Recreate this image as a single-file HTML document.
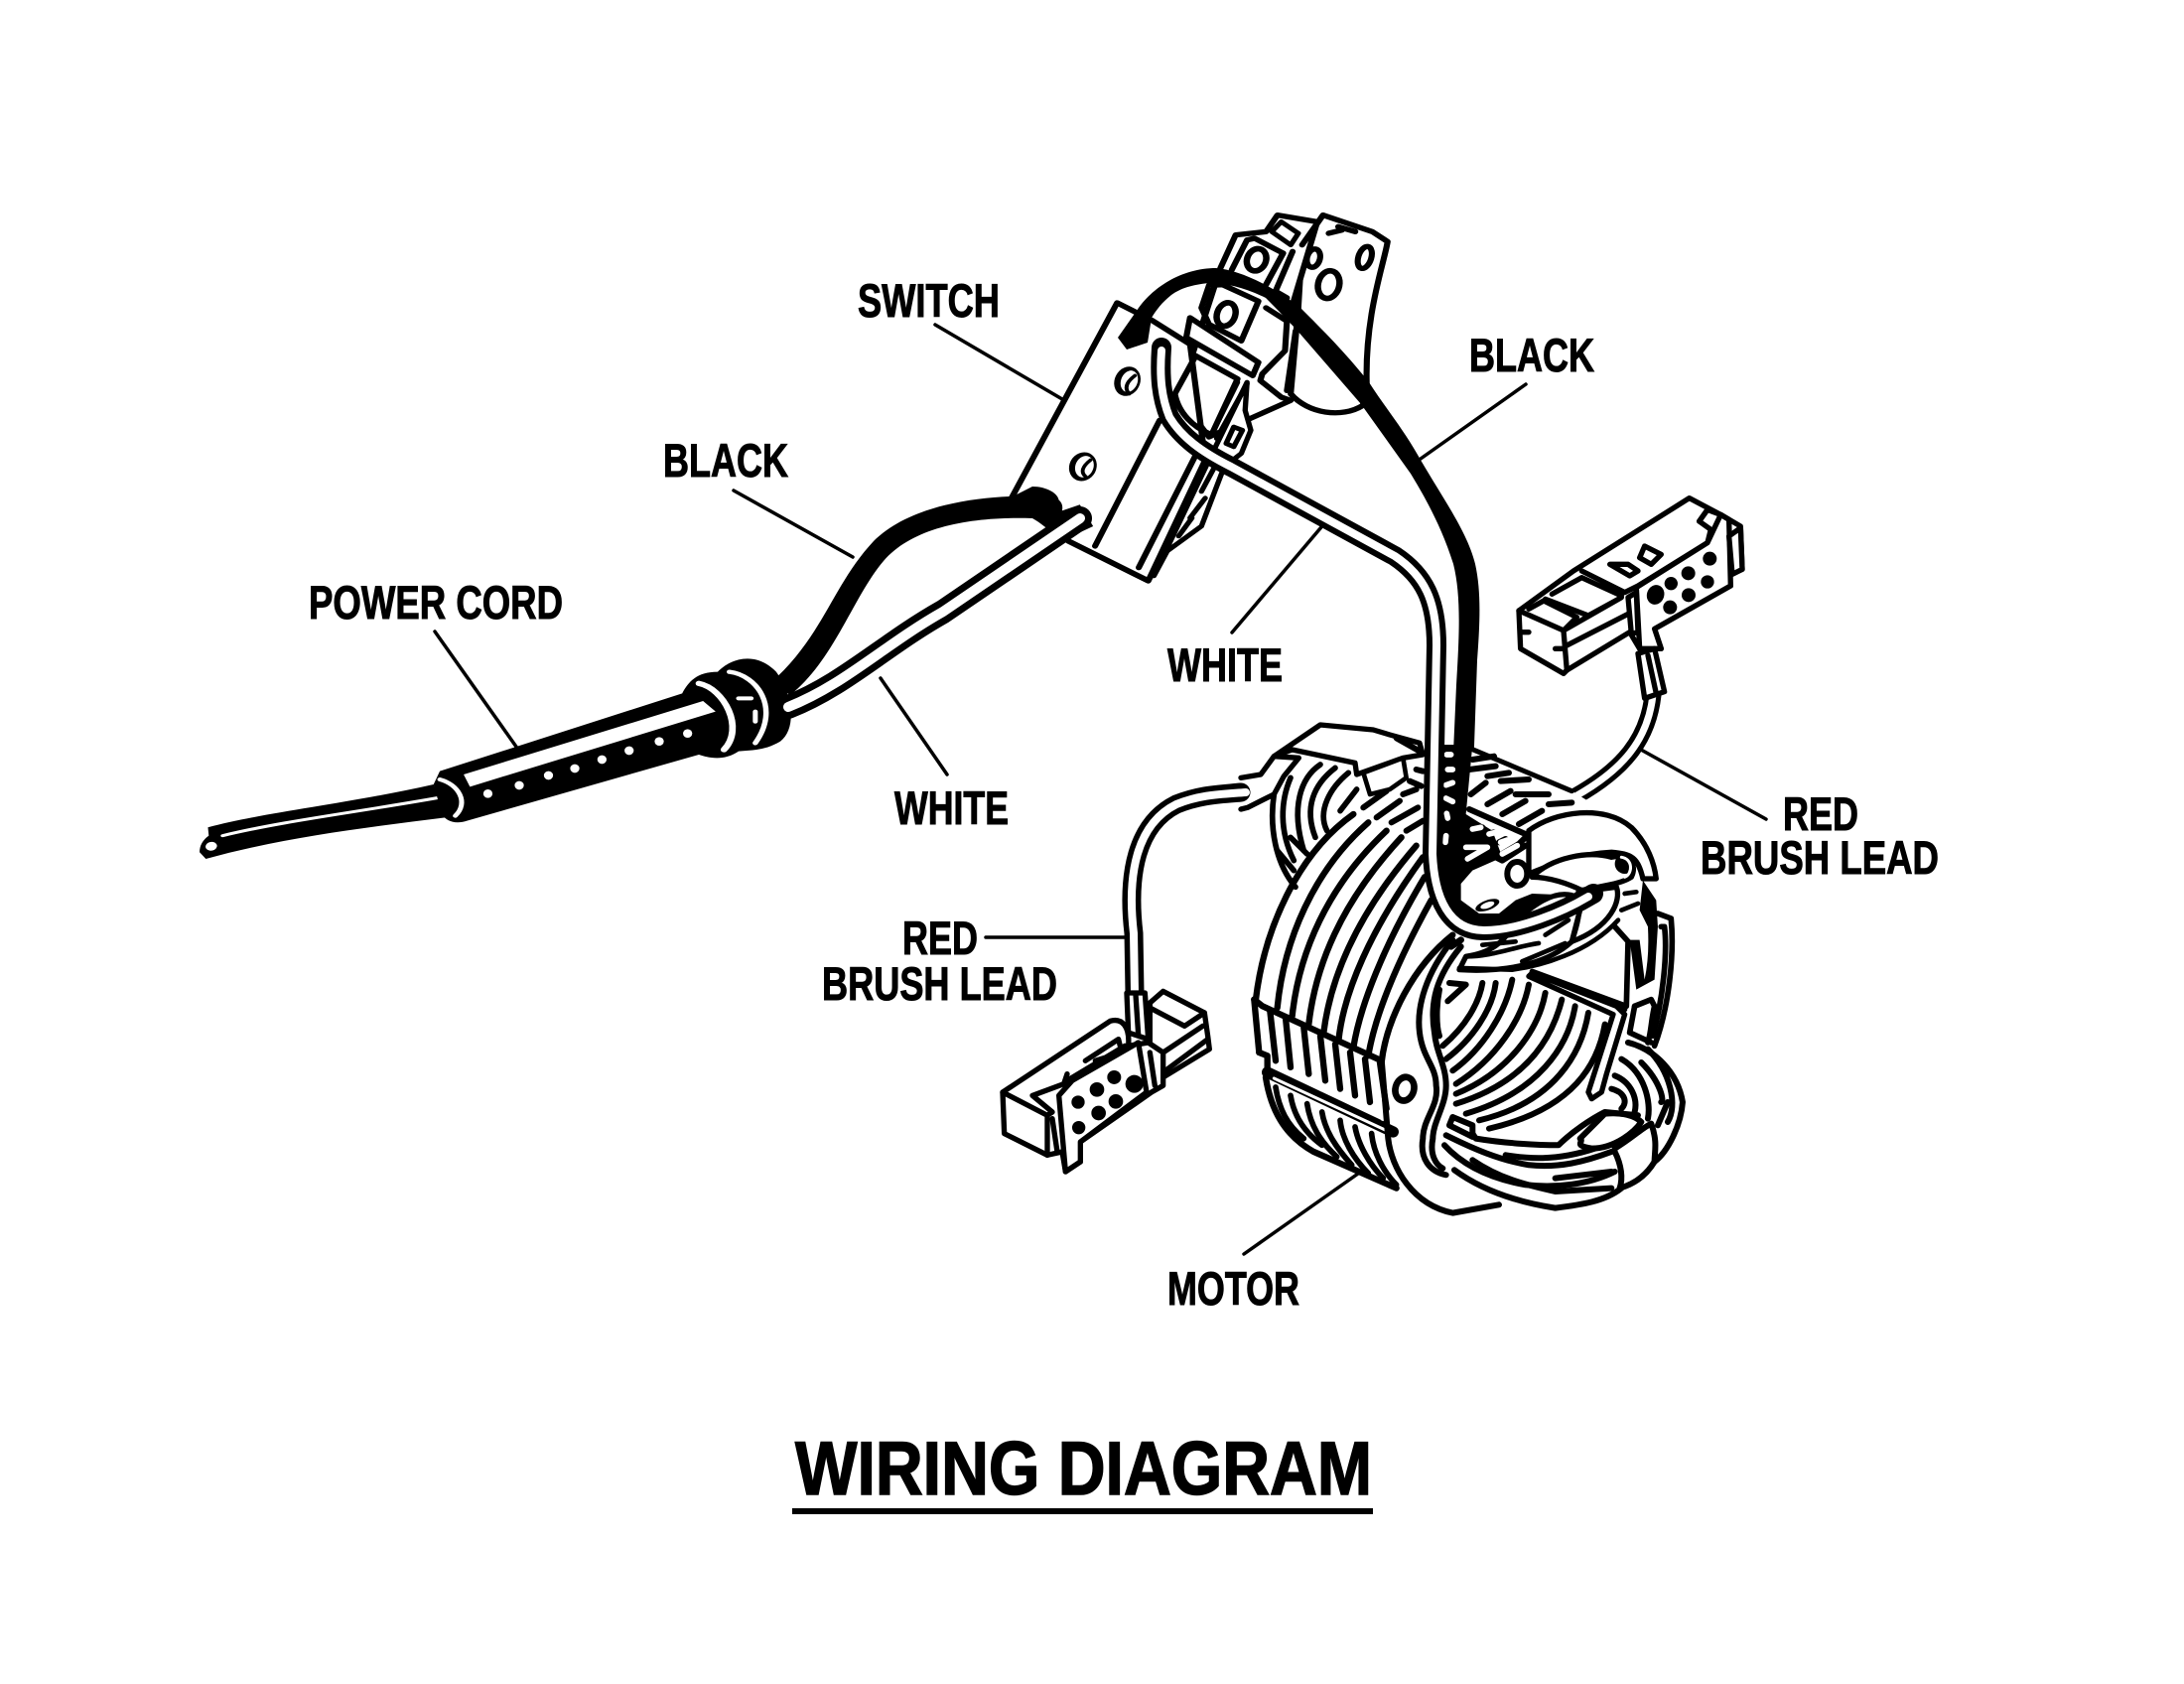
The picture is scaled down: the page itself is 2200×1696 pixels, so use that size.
<!DOCTYPE html>
<html><head><meta charset="utf-8"><style>
html,body{margin:0;padding:0;background:#fff}
svg{display:block}
text{font-family:"Liberation Sans",sans-serif;font-weight:700;fill:#000;stroke:#000;stroke-width:1}
.k{fill:none;stroke:#000;stroke-linecap:round;stroke-linejoin:round}
.w{fill:none;stroke:#fff;stroke-linecap:round;stroke-linejoin:round}
.f{fill:#fff;stroke:#000;stroke-linejoin:round;stroke-linecap:round}
.b{fill:#000}
</style></head><body>
<svg xmlns="http://www.w3.org/2000/svg" width="2200" height="1696" viewBox="0 0 2200 1696">
<rect width="2200" height="1696" fill="#fff"/>

<!-- labels -->
<text x="864" y="319" font-size="47" textLength="143" lengthAdjust="spacingAndGlyphs">SWITCH</text>
<text x="1480" y="374" font-size="47" textLength="126" lengthAdjust="spacingAndGlyphs">BLACK</text>
<text x="668" y="480" font-size="47" textLength="126" lengthAdjust="spacingAndGlyphs">BLACK</text>
<text x="311" y="623" font-size="47" textLength="256" lengthAdjust="spacingAndGlyphs">POWER CORD</text>
<text x="1176" y="686" font-size="47" textLength="116" lengthAdjust="spacingAndGlyphs">WHITE</text>
<text x="901" y="830" font-size="47" textLength="115" lengthAdjust="spacingAndGlyphs">WHITE</text>
<text x="1796" y="836" font-size="47" textLength="76" lengthAdjust="spacingAndGlyphs">RED</text>
<text x="1713" y="880" font-size="47" textLength="240" lengthAdjust="spacingAndGlyphs">BRUSH LEAD</text>
<text x="909" y="961" font-size="47" textLength="76" lengthAdjust="spacingAndGlyphs">RED</text>
<text x="828" y="1007" font-size="47" textLength="237" lengthAdjust="spacingAndGlyphs">BRUSH LEAD</text>
<text x="1176" y="1314" font-size="47" textLength="133" lengthAdjust="spacingAndGlyphs">MOTOR</text>
<text x="801" y="1505" font-size="76" textLength="581" lengthAdjust="spacingAndGlyphs" style="stroke-width:1.5">WIRING DIAGRAM</text>
<rect x="798" y="1519" width="585" height="6" fill="#000"/>

<!-- leaders -->
<g class="k" stroke-width="3.5">
<path d="M942,327L1070,402"/>
<path d="M1537,387L1431,462"/>
<path d="M739,494L859,561"/>
<path d="M438,636L520,752"/>
<path d="M1336,525L1241,637"/>
<path d="M887,683L954,780"/>
<path d="M1653,755L1779,825"/>
<path d="M993,944L1134,944"/>
<path d="M1368,1182L1253,1263"/>
</g>

<!-- power cord -->
<g transform="translate(180 600) scale(.4209 .3333)">
<path class="b" d="M70,700C200,655 400,630 610,570L640,670C450,700 250,730 65,795L50,775Q50,745 72,725Z"/>
<path class="w" stroke-width="9" d="M105,725C250,680 450,650 645,605"/>
<ellipse cx="78" cy="757" rx="14" ry="13" fill="#fff" transform="rotate(-35 78 757)"/>
<path class="b" d="M625,530L1205,295C1220,260 1240,230 1290,230C1320,190 1380,165 1430,230C1470,300 1480,400 1440,440C1400,470 1370,465 1340,470C1310,495 1280,495 1245,480L690,680C660,692 640,680 630,660L610,570Z"/>
<path fill="#fff" d="M682,540L1255,318L1285,350L697,577Z"/>
<g fill="#fff">
<ellipse cx="740" cy="598" rx="11" ry="13"/><ellipse cx="815" cy="573" rx="11" ry="13"/><ellipse cx="885" cy="543" rx="11" ry="13"/><ellipse cx="948" cy="522" rx="11" ry="13"/><ellipse cx="1013" cy="495" rx="11" ry="13"/><ellipse cx="1078" cy="468" rx="11" ry="13"/><ellipse cx="1150" cy="440" rx="11" ry="13"/><ellipse cx="1218" cy="416" rx="11" ry="13"/>
</g>
<path class="w" stroke-width="12" d="M625,555C670,570 695,625 662,665"/>
<path class="w" stroke-width="16" d="M1245,265C1305,280 1355,400 1305,465"/>
<path class="w" stroke-width="13" d="M1318,230C1385,240 1440,340 1380,445"/>
<path class="w" stroke-width="12" d="M1340,310L1370,310M1380,350L1380,380"/>
</g>

<!-- switch -->
<g transform="translate(950 200) scale(.3827 .3333)" stroke-width="14">
<path class="f" stroke-width="16" d="M1000,50L1130,100L1170,130C1160,200 1110,350 1115,560L1105,625C1050,665 960,650 915,590L935,330L945,140Z"/>
<path class="f" stroke-width="16" d="M730,210L770,110L850,100L880,50L985,70L920,320L905,370L900,460L840,530L835,550L890,600L915,610L700,720L620,600Z"/>
<path class="k" stroke-width="16" d="M945,140L1000,50M1040,85L1085,100M1015,105L1050,95"/>
<path class="f" stroke-width="14" d="M865,100L890,70L935,105L915,140Z"/>
<path class="k" stroke-width="16" d="M760,215L800,125L820,120L895,165L850,260"/>
<path class="k" stroke-width="16" d="M895,165L850,260M920,160L875,280L905,300M735,260L830,310L785,430M735,260L700,262L680,330L700,380L785,430M850,330L905,370"/>
<ellipse cx="825" cy="185" rx="25" ry="34" fill="#fff" stroke="#000" stroke-width="17" transform="rotate(15 825 185)"/>
<ellipse cx="745" cy="350" rx="24" ry="36" fill="#fff" stroke="#000" stroke-width="17" transform="rotate(15 745 350)"/>
<ellipse cx="975" cy="180" rx="17" ry="28" fill="#fff" stroke="#000" stroke-width="16" transform="rotate(12 975 180)"/>
<ellipse cx="1015" cy="260" rx="28" ry="42" fill="#fff" stroke="#000" stroke-width="17" transform="rotate(10 1015 260)"/>
<ellipse cx="1110" cy="178" rx="17" ry="34" fill="#fff" stroke="#000" stroke-width="16" transform="rotate(15 1110 178)"/>
<path class="k" stroke-width="16" d="M928,400L905,580"/>
<path class="f" stroke-width="16" d="M458,315L180,905L330,1035L540,1155L690,790L650,440L550,368Z"/>
<path class="f" stroke-width="16" d="M650,360L640,420L815,535L830,495Z"/>
<path class="k" stroke-width="16" d="M665,475L775,545L710,705M665,475L610,590C620,650 660,690 700,710M570,670L400,1050M330,1035L540,1155M515,1115L665,775M540,1155L700,790"/>
<path class="f" stroke-width="14" d="M795,640L810,700L785,770L740,810L680,990L590,1065L555,1140L700,790L800,555Z"/>
<path class="k" stroke-width="14" d="M800,560L720,725M775,555L710,705"/>
<path class="f" stroke-width="14" d="M765,690L788,700L765,750L745,740Z"/>
<path class="k" stroke-width="14" d="M715,810L680,885M690,905L650,965M655,965L620,1020"/>
<g fill="#000"><ellipse cx="485" cy="552" rx="34" ry="45" transform="rotate(15 485 552)"/><ellipse cx="368" cy="810" rx="36" ry="44" transform="rotate(15 368 810)"/></g>
<g fill="#fff"><ellipse cx="490" cy="552" rx="22" ry="33" transform="rotate(15 490 552)"/><ellipse cx="372" cy="810" rx="24" ry="33" transform="rotate(15 372 810)"/></g>
<path class="k" stroke-width="10" d="M505,535Q470,565 490,590M388,790Q355,820 375,840"/>
<path class="b" d="M235,870C280,870 320,900 300,935L270,960L360,925L395,990L330,1025L270,990L175,905Z"/>
</g>

<!-- black cord wire -->
<path class="b" d="M776,688C830,640 838,590 880,545C920,505 1000,498 1045,500C1065,498 1075,505 1068,520L1050,528L1040,522C980,520 920,530 890,565C860,600 840,665 796,700Z"/>
<!-- white cord wire -->
<path class="k" stroke-width="24" d="M794,712C850,690 890,650 950,616L1088,522"/>
<path class="w" stroke-width="10" d="M794,712C850,690 890,650 950,616L1088,522"/>

<!-- black wire -->
<path class="b" d="M1126,340L1145,313C1160,290 1190,270 1225,270C1250,272 1285,290 1310,310C1335,335 1355,355 1379,385C1395,410 1412,430 1428,458C1452,500 1478,535 1486,568C1492,595 1491,625 1488,665L1484,780L1463,780L1467,690C1470,640 1472,600 1464,568C1452,530 1435,500 1421,477L1371,407L1306,332C1290,315 1280,305 1275,300C1255,290 1235,285 1218,285C1200,287 1190,290 1180,297C1170,305 1165,312 1160,320L1156,345L1135,352Z"/>

<!-- right brush lead (behind) -->
<path class="k" stroke-width="17" d="M1665,700C1660,745 1635,775 1587,802"/>
<path class="w" stroke-width="7" d="M1665,700C1660,745 1635,775 1587,802"/>

<!-- motor -->
<g transform="translate(1250 720) scale(.3333)">
<!-- silhouettes -->
<path fill="#fff" d="M100,120L240,30L400,40L550,90L650,100L700,100L1000,230L1180,340L1255,495L1300,615L1310,720L1260,1010L1335,1160L1270,1330L1150,1430L950,1490L780,1480L640,1505L470,1430L220,1320L130,1270L75,1095L60,1025L40,860L100,620L140,510L95,330Z"/>
<!-- back-left coil -->
<g class="k" stroke-width="17">
<path d="M100,240C85,340 105,450 165,520"/>
<path d="M150,190C120,260 115,350 160,440"/>
<path d="M110,410L160,470"/>
<path d="M150,370L200,420"/>
<path d="M240,150C180,190 150,280 190,410"/>
<path d="M285,160C220,210 190,280 225,370"/>
<path d="M325,175C270,220 230,290 260,350"/>
<path d="M350,225L300,290"/>
</g>
<path class="f" stroke-width="16" d="M100,125L240,30L400,45L450,60L540,85L550,120L490,130L350,180L345,145L155,105Z"/>
<path class="f" stroke-width="16" d="M0,190L60,180L100,125L175,130L130,185L100,240L20,280L0,285"/>
<path class="f" stroke-width="14" d="M370,175L490,130L500,190L450,225L390,240Z"/>
<!-- top slats left -->
<g class="k" stroke-width="18">
<path d="M370,280L440,230M410,310L480,260M455,325L535,280M500,350L550,320M490,240L530,225M510,200L545,215M530,165L550,170M470,70L550,115"/>
</g>
<!-- top slats right -->
<path class="k" stroke-width="15" d="M690,100L1000,230"/>
<g class="k" stroke-width="18">
<path d="M700,135L765,125M690,165L770,155M745,185L810,175M785,200L870,195M830,240L930,240M930,270L1000,265"/>
<path d="M695,240L740,205M745,270L815,230M790,300L860,260M840,330L910,290"/>
<path d="M690,285L860,360"/>
<path d="M690,330L700,325M700,350L730,340M745,360L765,355M780,385L800,375M680,385L730,400M680,435L750,400M790,420L840,390L860,370"/>
<path d="M770,430L790,440L860,395"/>
</g>
<!-- main front coil strands -->
<g class="k" stroke-width="19">
<path d="M45,860C70,650 170,420 340,300"/>
<path d="M110,885C130,680 220,470 385,325"/>
<path d="M155,910C175,720 260,520 440,350"/>
<path d="M205,935C225,760 300,570 485,370"/>
<path d="M250,960C270,800 345,610 530,395"/>
<path d="M295,985C310,840 390,650 550,430"/>
<path d="M340,1005C360,880 430,700 555,490"/>
<path d="M385,1030C405,910 470,750 575,560"/>
<path d="M425,1050C440,920 520,760 640,665"/>
<path d="M40,860L65,880L425,1045"/>
<path d="M40,860L55,1020M88,895L105,1045M135,915L150,1065M190,945L205,1085M240,970L255,1105M285,995L300,1130M330,1020L345,1150M375,1040L390,1170M420,1050L440,1190"/>
<path d="M55,1020L80,1030L80,1090"/>
<path d="M75,1095C90,1190 130,1270 220,1320L470,1430"/>
<path stroke-width="34" d="M80,1080L460,1260"/>
</g>
<path class="w" stroke-width="9" d="M100,1098L440,1256"/>
<g fill="#fff"><circle cx="112" cy="1064" r="9"/><circle cx="155" cy="1082" r="9"/><circle cx="200" cy="1105" r="9"/><circle cx="245" cy="1128" r="10"/><circle cx="290" cy="1150" r="9"/><circle cx="335" cy="1172" r="9"/><circle cx="385" cy="1195" r="9"/><circle cx="430" cy="1218" r="9"/></g>
<g class="k" stroke-width="17">
<path d="M150,1150C160,1210 190,1260 245,1300"/>
<path d="M200,1175C210,1240 240,1290 290,1335"/>
<path d="M245,1200C255,1260 290,1310 335,1360"/>
<path d="M300,1225C305,1280 340,1340 385,1385"/>
<path d="M345,1245C355,1300 390,1360 430,1400"/>
<path d="M395,1265C400,1320 430,1380 470,1420"/>
<path d="M105,1125C115,1190 140,1240 190,1280"/>
</g>
<!-- plate edges -->
<g class="k" stroke-width="18">
<path d="M425,1040L445,1280C455,1370 520,1480 640,1505L780,1480"/>
<path d="M640,680C560,780 530,880 540,960C550,1040 590,1060 590,1120C600,1180 550,1220 550,1280C540,1340 570,1380 620,1390"/>
<path d="M665,700C590,790 570,870 585,960C590,1020 620,1060 620,1120C620,1180 580,1230 580,1280C570,1330 590,1360 610,1370"/>
<path d="M635,700L665,680" stroke-width="20"/>
</g>
<ellipse cx="495" cy="1130" rx="28" ry="36" fill="#fff" stroke="#000" stroke-width="20" transform="rotate(15 495 1130)"/>
<!-- inner coil strands -->
<g class="k" stroke-width="18">
<path d="M730,810C720,870 680,940 610,1000"/>
<path d="M770,810C760,890 700,980 620,1040"/>
<path d="M820,800C800,900 730,1010 640,1075"/>
<path d="M870,815C850,920 770,1040 650,1115"/>
<path d="M920,840C900,950 810,1080 650,1145"/>
<path d="M970,860C940,980 860,1110 650,1175"/>
<path d="M1010,880C990,1000 900,1140 680,1205"/>
<path d="M1050,900C1030,1020 950,1170 720,1225"/>
<path d="M1100,935C1080,1050 1010,1190 750,1250"/>
<path d="M600,830C590,880 590,940 600,970"/>
<path d="M630,810L680,815L625,865"/>
</g>
<path class="f" stroke-width="16" d="M880,780L1160,890L1135,880L1160,905L1105,1085L1090,1140L1060,1160L1050,1140L1125,905L870,790Z"/>
<path class="k" stroke-width="16" d="M880,775L1165,880"/>
<!-- bottom bundle -->
<g class="k" stroke-width="18">
<path d="M640,1215L700,1240L700,1275L630,1240Z"/>
<path d="M700,1265L710,1280C800,1295 900,1300 960,1300C1000,1260 1060,1220 1100,1200L1200,1210"/>
<path d="M620,1270C700,1310 780,1345 870,1360C960,1370 1040,1350 1120,1320"/>
<path d="M615,1300C670,1360 750,1400 860,1420C950,1430 1050,1420 1130,1380"/>
<path d="M645,1375C720,1430 820,1470 950,1490C1030,1480 1100,1470 1150,1430"/>
<path d="M700,1345C780,1400 860,1420 950,1440L1120,1430"/>
<path d="M800,1330C860,1340 950,1350 1070,1310"/>
<path d="M950,1400L1120,1380"/>
<path d="M1130,1320C1150,1360 1155,1400 1145,1430"/>
<path d="M1025,1280L1100,1205C1150,1200 1190,1210 1210,1230C1190,1260 1130,1310 1060,1310C1000,1300 1040,1290 1025,1280Z"/>
<path d="M1130,1310C1180,1280 1210,1250 1240,1235C1260,1290 1250,1320 1250,1350C1220,1400 1180,1420 1145,1430"/>
<!-- right end coil -->
<path d="M1170,990C1250,1010 1320,1080 1335,1170C1330,1240 1290,1320 1250,1350"/>
<path d="M1130,1090C1180,1110 1200,1160 1190,1200"/>
<path d="M1120,1130C1160,1140 1170,1170 1150,1190"/>
<path d="M1150,1040C1220,1080 1240,1170 1230,1220"/>
<path d="M1210,1050C1270,1110 1280,1170 1270,1170"/>
<path d="M1230,1010C1300,1080 1320,1180 1290,1230"/>
<path d="M1260,1240L1290,1170"/>
</g>
<!-- right end band -->
<g class="k" stroke-width="17">
<path d="M1260,600L1300,615C1310,720 1295,880 1250,1000"/>
<path d="M1270,640L1280,640C1290,720 1275,860 1245,970"/>
<path d="M1190,880L1240,860L1250,880C1240,920 1240,960 1230,990"/>
<path d="M1190,880L1175,960L1240,990"/>
<path d="M1170,690L1165,880"/>
<path d="M1130,640L1175,690"/>
</g>
<path class="b" d="M1215,500L1255,560L1260,640L1250,800L1195,830L1175,680L1205,680L1220,800Q1235,730 1230,640L1205,590Z"/>
<!-- front ring -->
<path class="f" stroke-width="16" d="M870,350C950,290 1100,270 1180,340C1230,390 1250,450 1255,495L1215,495C1200,430 1180,420 1120,415C1000,420 900,470 870,480Z"/>
<!-- black block around wire -->
<path class="b" d="M600,90L700,90L680,300L760,350L790,430L700,470L665,510L665,560L720,600L780,600L830,560L880,540L1000,545L900,620C830,650 760,665 700,650C640,630 610,590 600,500Z"/>
<g class="w" stroke-width="17">
<path d="M622,120L635,120M625,165L640,165M620,212L640,205M620,252L640,262M622,298L625,312M620,365L618,385"/>
<path d="M700,345L725,340M750,360L770,355M785,385L805,378M680,400L745,400M685,435L745,400M790,420L835,395"/>
</g>
<path fill="#fff" d="M665,515L730,465C760,480 790,510 820,520L760,540L690,565Z"/>
<ellipse cx="745" cy="575" rx="38" ry="15" fill="#000" transform="rotate(-20 745 575)"/>
<ellipse cx="745" cy="575" rx="22" ry="9" fill="#fff" transform="rotate(-20 745 575)"/>
<ellipse cx="835" cy="480" rx="30" ry="36" fill="#fff" stroke="#000" stroke-width="18"/>
<!-- wound bundle -->
<path class="f" stroke-width="16" d="M880,490C940,430 1050,410 1120,430C1170,420 1200,450 1180,490C1150,510 1100,515 1030,530C990,510 930,490 880,490Z"/>
<path class="f" stroke-width="16" d="M1020,535L1135,520C1150,560 1120,640 1000,685C1015,640 1030,590 1020,535Z"/>
<path class="f" stroke-width="16" d="M830,620C880,580 940,530 1000,545L1030,570L1000,685C940,740 830,780 660,770L680,730C750,720 800,690 830,620Z"/>
<g class="k" stroke-width="14">
<path d="M880,620C920,610 960,590 1000,575"/>
<path d="M920,665L990,620"/>
<path d="M680,730C760,730 830,700 900,690"/>
<path d="M850,745L980,690"/>
<path d="M730,695L830,685"/>
<path d="M660,765L820,770C900,760 1050,720 1140,620"/>
</g>
<path class="k" stroke-width="14" d="M1150,590L1200,570M1160,540L1195,535"/>
<circle cx="1160" cy="450" r="30" fill="#000"/>
<path class="w" stroke-width="9" d="M1150,430C1185,435 1185,480 1160,490"/>
</g>

<!-- white wire -->
<path class="k" stroke-width="20" d="M1170,350C1168,380 1170,400 1178,420C1190,440 1210,455 1240,470L1405,560C1435,580 1447,605 1447,650L1443,860C1445,905 1460,937 1495,937C1530,937 1575,918 1605,900"/>
<path class="w" stroke-width="8" d="M1170,353C1168,380 1170,400 1178,420C1190,440 1210,455 1240,470L1405,560C1435,580 1447,605 1447,650L1443,860C1445,905 1460,937 1495,937C1530,937 1575,918 1600,903"/>

<!-- left brush lead -->
<path class="k" stroke-width="19" d="M1143,1000L1142,940C1135,880 1145,830 1185,810C1210,800 1230,800 1250,798"/>
<path class="w" stroke-width="8" d="M1143,1000L1142,940C1135,880 1145,830 1185,810C1210,800 1230,800 1255,798"/>

<!-- left connector -->
<g transform="translate(990 960) scale(.3333)" stroke-width="16">
<path class="f" d="M505,150L545,115L670,180L680,250L685,290L545,375L505,300Z"/>
<path class="k" d="M505,165L610,220L670,180M545,300L665,220M545,360L680,260"/>
<path class="f" d="M60,420L385,205C420,195 445,220 440,280L500,270L545,300L545,400L510,420L295,570L295,630L250,660L240,600L195,610L65,545Z"/>
<path class="k" d="M60,420L195,490L195,610M195,490L210,480L150,430L245,395L255,365M255,385L430,280M310,325L410,260L420,300L340,325"/>
<path class="f" d="M230,430L270,385L470,270L495,420L295,570L295,630L250,660Z"/>
<path class="k" d="M210,500L225,600M505,300L520,400"/>
<g fill="#000"><circle cx="288" cy="450" r="20"/><circle cx="345" cy="412" r="22"/><circle cx="397" cy="375" r="21"/><circle cx="458" cy="395" r="27"/><circle cx="402" cy="448" r="22"/><circle cx="350" cy="483" r="22"/><circle cx="290" cy="527" r="20"/></g>
<path class="f" d="M435,120L440,240L500,260L490,120Z"/>
<path class="k" d="M462,125L470,245"/>
</g>

<!-- right connector -->
<g transform="translate(1520 490) scale(.3333)" stroke-width="16">
<path class="f" d="M30,375L195,255L545,35L640,85L700,120L705,250L665,265L670,300L440,430L460,490L395,490L365,440L175,555L165,565L35,490Z"/>
<path class="k" d="M30,375L165,435L175,555M165,435L340,335M175,480L360,385M60,370L105,345L205,395L165,435M110,340L240,390L340,335M130,325L220,275L340,330M220,255L350,320L390,300L600,170L610,130L575,105L600,70L640,85"/>
<path class="f" d="M385,305L600,170L640,85L665,100L670,300L440,430L460,490L395,490Z"/>
<path class="f" d="M360,335L385,320L390,440L370,445Z"/>
<path class="f" d="M665,150L700,125L705,250L675,265Z"/>
<path class="k" d="M575,105L600,70M40,440L60,440M140,490L165,490"/>
<g fill="#000"><ellipse cx="443" cy="327" rx="26" ry="30" transform="rotate(20 443 327)"/><circle cx="490" cy="293" r="20"/><circle cx="542" cy="262" r="21"/><circle cx="607" cy="218" r="21"/><circle cx="600" cy="288" r="20"/><circle cx="543" cy="328" r="21"/><circle cx="487" cy="365" r="21"/></g>
<path class="f" d="M395,215L410,180L460,205L430,235Z"/>
<path class="f" d="M305,235L360,235L390,255L365,270Z"/>
<path class="f" d="M390,505L440,490L470,620L410,640Z"/>
<path class="k" d="M420,510L445,625"/>
</g>
</svg>
</body></html>
